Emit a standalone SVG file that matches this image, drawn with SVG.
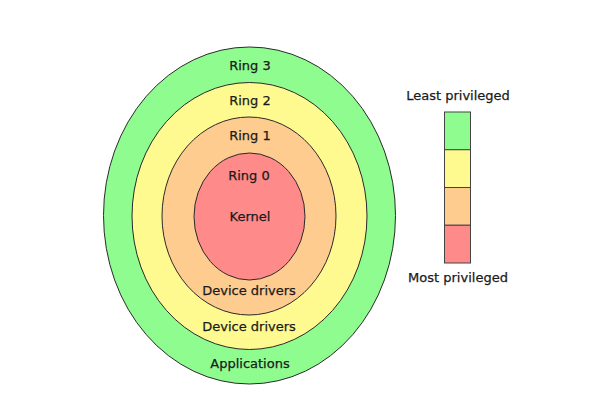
<svg xmlns="http://www.w3.org/2000/svg" width="594" height="419" viewBox="0 0 594 419">
<style>
.ring{stroke:#2a2a2a;stroke-width:1}
.lg{stroke:#444;stroke-width:1}
text{font-family:"DejaVu Sans",sans-serif;font-size:13px;fill:#1a1a1a;stroke:#1a1a1a;stroke-width:0.25;text-anchor:middle}
</style>
<rect width="594" height="419" fill="#ffffff"/>
<g id="ring3"><ellipse class="ring" cx="249.5" cy="215.5" rx="146" ry="168.5" fill="#8ffc8f"/></g>
<g id="ring2"><ellipse class="ring" cx="249.5" cy="216" rx="117.5" ry="133.5" fill="#fefa8f"/></g>
<g id="ring1"><ellipse class="ring" cx="249" cy="216" rx="87" ry="99" fill="#fecc8f"/></g>
<g id="ring0"><ellipse class="ring" cx="249.5" cy="216.5" rx="55.5" ry="63.5" fill="#fe8a8a"/></g>
<g id="labels">
<text x="250" y="70">Ring 3</text>
<text x="250" y="105">Ring 2</text>
<text x="250" y="140">Ring 1</text>
<text x="249" y="180">Ring 0</text>
<text x="250" y="221">Kernel</text>
<text x="249" y="295">Device drivers</text>
<text x="249" y="331">Device drivers</text>
<text x="250" y="368">Applications</text>
</g>
<g id="legend">
<rect class="lg" x="444.5" y="112" width="26" height="37.75" fill="#8ffc8f"/>
<rect class="lg" x="444.5" y="149.75" width="26" height="37.75" fill="#fefa8f"/>
<rect class="lg" x="444.5" y="187.5" width="26" height="37.75" fill="#fecc8f"/>
<rect class="lg" x="444.5" y="225.25" width="26" height="37.75" fill="#fe8a8a"/>
<text x="458" y="100">Least privileged</text>
<text x="458" y="282">Most privileged</text>
</g>
</svg>
